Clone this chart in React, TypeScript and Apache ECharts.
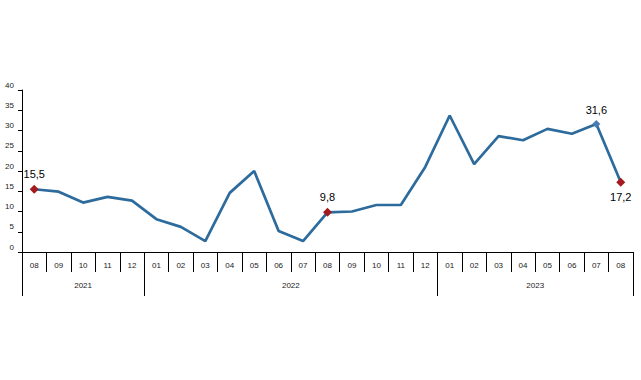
import React, { useEffect, useRef } from "react";
import * as echarts from "echarts";

const monthLabels = ["08","09","10","11","12","01","02","03","04","05","06","07","08","09","10","11","12","01","02","03","04","05","06","07","08"];
const yearLabels = ["2021", "2022", "2023"];
const yearSpans = [5, 12, 8];
const values = [15.5, 14.9, 12.2, 13.6, 12.7, 8.1, 6.2, 2.7, 14.6, 20.0, 5.2, 2.7, 9.8, 10.0, 11.6, 11.6, 21.0, 33.7, 21.7, 28.6, 27.6, 30.4, 29.2, 31.6, 17.2];
const redPoints = [0, 12, 24];
const bluePoints = [23];
const yTicks = [0, 5, 10, 15, 20, 25, 30, 35, 40];

const FONT = "Liberation Sans, Arial, sans-serif";

export default function App() {
  const ref = useRef<HTMLDivElement>(null);
  useEffect(() => {
    const chart = echarts.init(ref.current!, null, { renderer: "svg" });
    const n = monthLabels.length;
    const yearAxisData: string[] = new Array(2 * n + 1).fill("");
    const boundaries = new Set<number>([0]);
    let start = 0;
    yearSpans.forEach((span, i) => {
      const mid = start * 2 + span;
      yearAxisData[mid] = yearLabels[i];
      start += span;
      boundaries.add(start * 2);
    });
    const labelSet = new Set<number>();
    yearAxisData.forEach((v, i) => { if (v) labelSet.add(i); });

    const data = values.map((v, i) => {
      const red = redPoints.includes(i);
      const blue = bluePoints.includes(i);
      if (!red && !blue) return { value: v, symbol: "none" };
      return {
        value: v,
        symbol: "diamond",
        symbolSize: red ? 9 : 8,
        itemStyle: { color: red ? "#a31b1f" : "#4a7cb4" },
        label: {
          show: true,
          position: i === n - 1 ? "bottom" : "top",
          distance: 5,
          formatter: () => v.toFixed(1).replace(".", ","),
          fontSize: 11,
          fontFamily: FONT,
          color: "#000",
        },
      };
    });

    chart.setOption({
      animation: false,
      backgroundColor: "#fff",
      grid: { left: 22, right: 8, top: 90, bottom: 128, containLabel: false },
      xAxis: [
        {
          type: "category",
          data: monthLabels,
          boundaryGap: true,
          position: "bottom",
          axisLine: { show: true, lineStyle: { color: "#000", width: 1 } },
          axisTick: { show: true, length: 20, interval: 0, lineStyle: { color: "#000", width: 1 } },
          axisLabel: { interval: 0, fontSize: 8, fontFamily: FONT, color: "#222", margin: 9 },
          splitLine: { show: false },
        },
        {
          type: "category",
          data: yearAxisData,
          boundaryGap: false,
          position: "bottom",
          axisLine: { show: false },
          axisTick: {
            show: true,
            length: 44,
            interval: (idx: number) => boundaries.has(idx),
            lineStyle: { color: "#000", width: 1 },
          },
          axisLabel: {
            interval: (idx: number) => labelSet.has(idx),
            fontSize: 8,
            fontFamily: FONT,
            color: "#222",
            margin: 29,
          },
          splitLine: { show: false },
        },
      ],
      yAxis: {
        type: "value",
        min: yTicks[0],
        max: yTicks[yTicks.length - 1],
        interval: 5,
        axisLine: { show: true, lineStyle: { color: "#000", width: 1 } },
        axisTick: { show: true, length: 4, lineStyle: { color: "#000" } },
        axisLabel: { fontSize: 8, fontFamily: FONT, color: "#222", margin: 8, verticalAlign: "bottom", lineHeight: 10 },
        splitLine: { show: false },
      },
      series: [
        {
          type: "line",
          xAxisIndex: 0,
          data,
          showSymbol: true,
          lineStyle: { color: "#2c6b9c", width: 2.7 },
          itemStyle: { color: "#2c6b9c" },
          z: 3,
        },
      ],
    });
    return () => chart.dispose();
  }, []);
  return <div ref={ref} style={{ width: 641, height: 380, position: "absolute", left: 0, top: 0 }} />;
}
